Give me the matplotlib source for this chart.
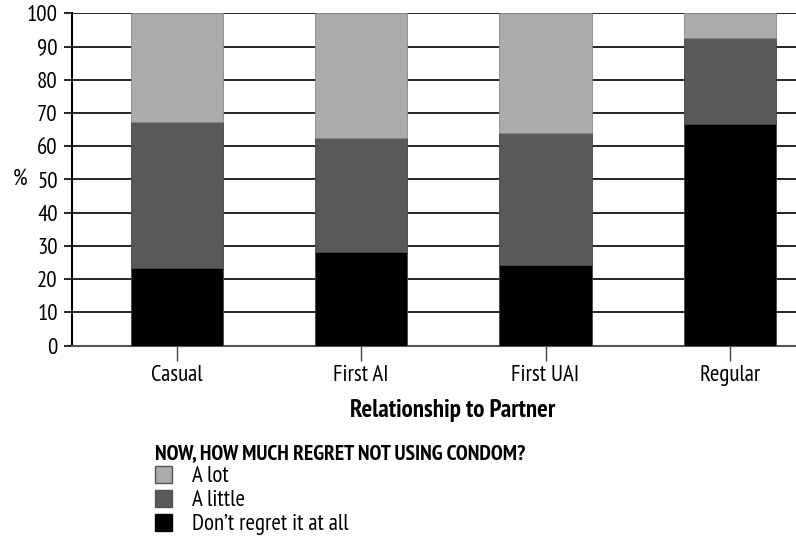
import matplotlib
matplotlib.use("Agg")
import matplotlib.pyplot as plt
from matplotlib.patches import Patch

categories = ["Casual", "First AI", "First UAI", "Regular"]
dont_regret = [23.5, 28.3, 24.3, 66.7]
a_little = [43.8, 34.3, 39.8, 26.0]
a_lot = [32.7, 37.4, 35.9, 7.3]
series_labels = ["A lot", "A little", "Don\u2019t regret it at all"]
yticks = list(range(0, 101, 10))

FAM = ['PT Sans Narrow', 'DejaVu Sans']
plt.rcParams['font.family'] = FAM
FS = 16.5

fig = plt.figure(figsize=(7.96, 5.54), dpi=100)
ax = fig.add_axes([71.7/796, 1-345.7/554, 1-71.7/796, (345.7-13.3)/554])

x = list(range(len(categories)))
c_lot, c_little, c_none = "#ababab", "#595959", "#000000"
bottom2 = [a + b for a, b in zip(dont_regret, a_little)]
ax.bar(x, dont_regret, width=0.5, color=c_none, edgecolor="#444444", linewidth=0.6, zorder=3)
ax.bar(x, a_little, bottom=dont_regret, width=0.5, color=c_little, edgecolor="#444444", linewidth=0.6, zorder=3)
ax.bar(x, a_lot, bottom=bottom2, width=0.5, color=c_lot, edgecolor="#888888", linewidth=0.6, zorder=3)

for v in yticks[1:]:
    ax.axhline(v, color="black", linewidth=1.2, zorder=1)

ax.set_xlim(-0.569, 3.358)
ax.set_ylim(0, 100)
ax.set_yticks(yticks)
ax.set_xticks(x)
ax.set_xticklabels(categories, fontsize=FS)
ax.tick_params(axis='y', labelsize=FS, length=6, width=1.2, pad=4)
ax.tick_params(axis='x', length=11, width=1.0, color="#444444", pad=3)
for s in ["top", "right"]:
    ax.spines[s].set_visible(False)
ax.spines["left"].set_linewidth(1.5)
ax.spines["bottom"].set_linewidth(1.5)
ax.spines["bottom"].set_color("#555555")

ax.set_ylabel("%", rotation=0, fontsize=FS, va="center", ha="center")
ax.yaxis.set_label_coords(-(71.7-20)/(796-71.7), 0.5)
fig.text(453/796, 1-410/554, "Relationship to Partner", ha="center", va="center",
         fontsize=18, fontweight="bold")

handles = [Patch(facecolor=c_lot, edgecolor="#555555"),
           Patch(facecolor=c_little, edgecolor="#555555"),
           Patch(facecolor=c_none, edgecolor="#000000")]
leg = fig.legend(handles, series_labels, title="NOW, HOW MUCH REGRET NOT USING CONDOM?",
                 loc="upper left", bbox_to_anchor=(155/796, 1-444/554), frameon=False,
                 fontsize=FS, title_fontproperties={"weight": "bold", "size": 15.5, "family": FAM},
                 handlelength=0.75, handleheight=0.75, handletextpad=0.85,
                 labelspacing=0.12, borderaxespad=0, borderpad=0)
leg._legend_box.align = "left"

fig.savefig("out.png", dpi=100)
